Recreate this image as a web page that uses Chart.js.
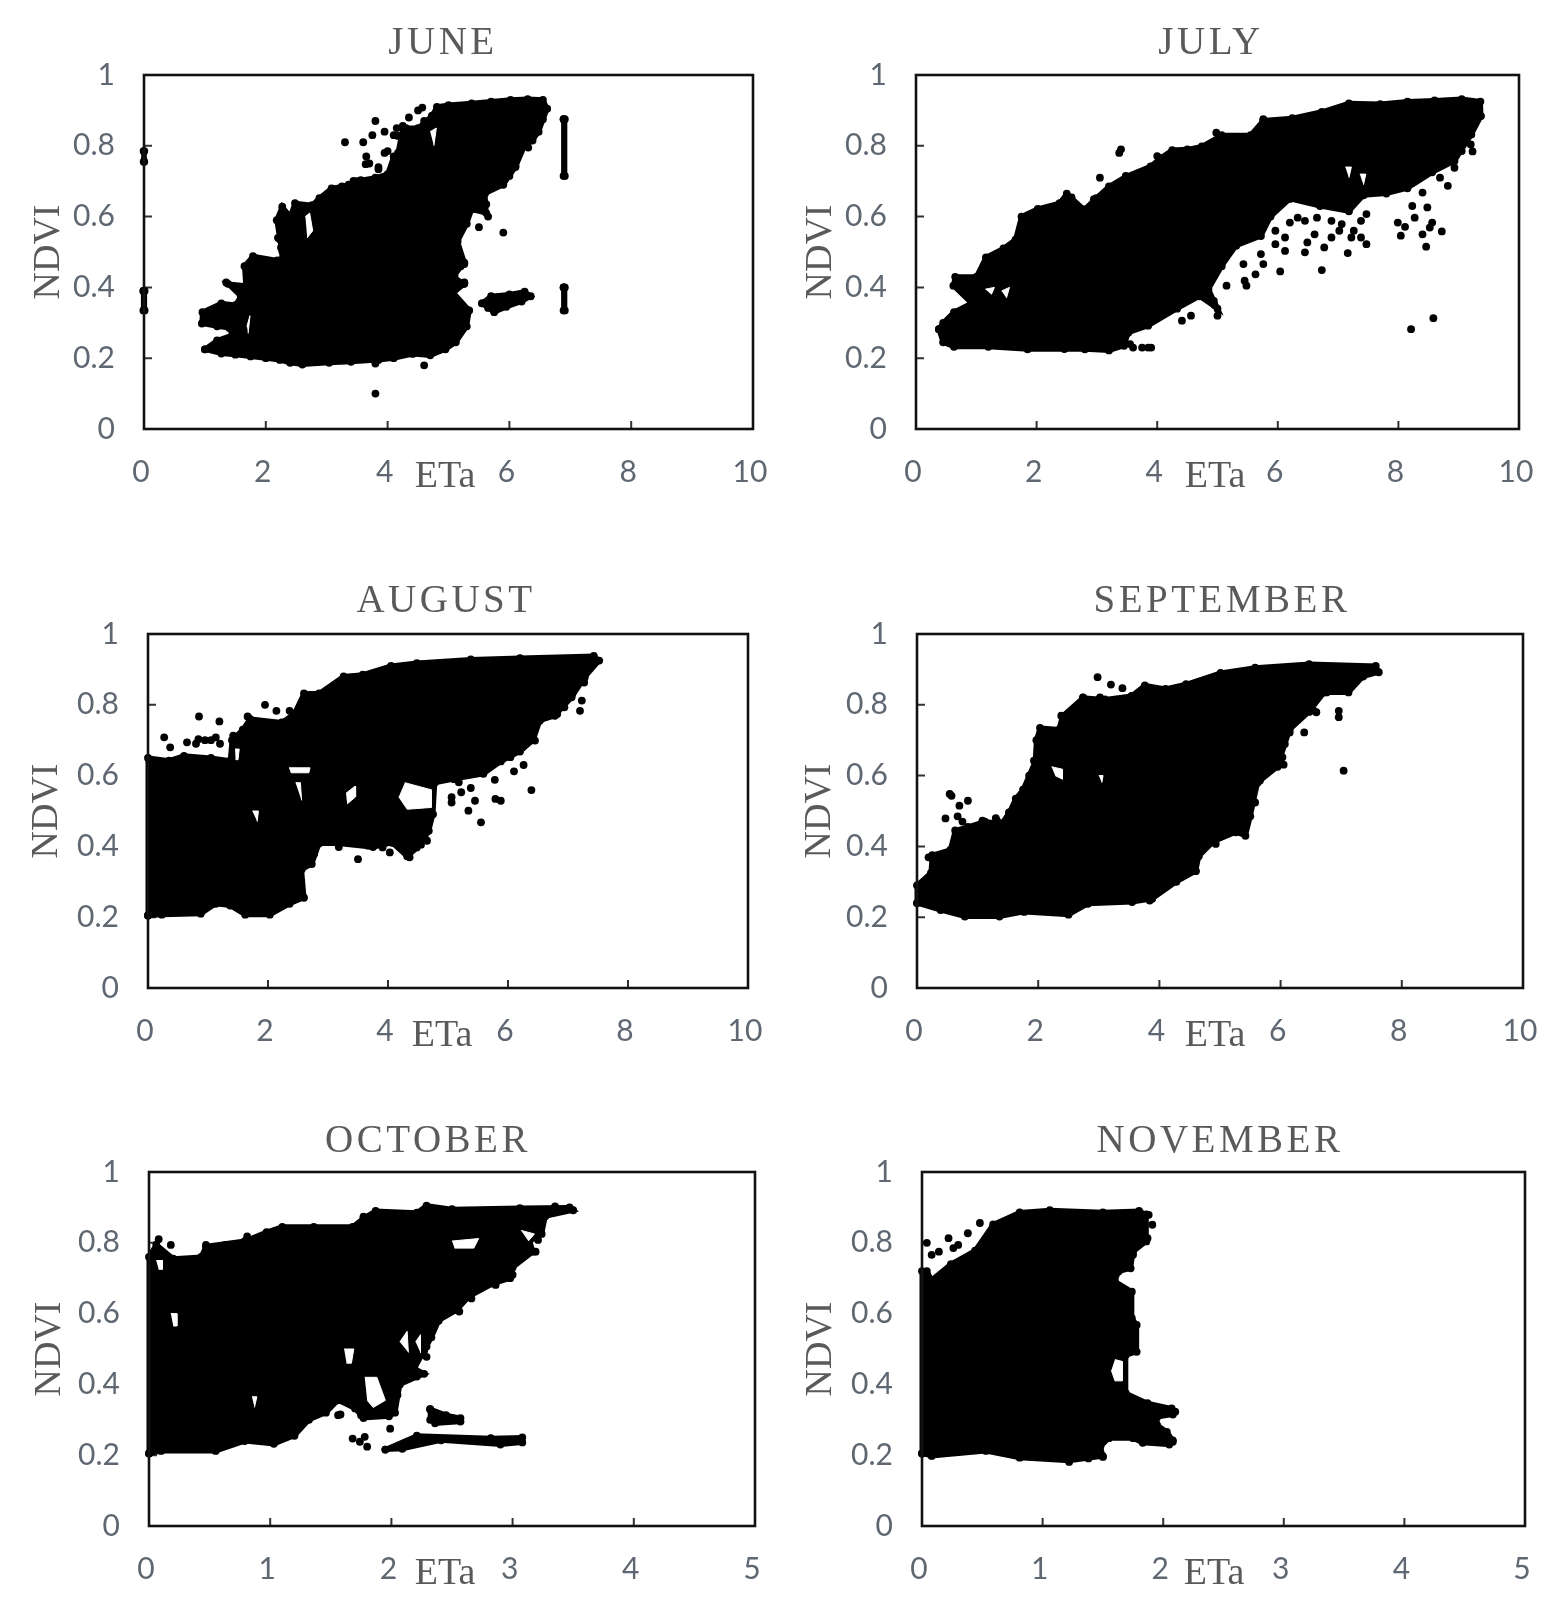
<!DOCTYPE html>
<html>
<head>
<meta charset="utf-8">
<title>NDVI vs ETa</title>
<script src="https://cdn.jsdelivr.net/npm/chart.js@4"></script>
<style>
html, body { margin: 0; padding: 0; background: #fff; }
body { position: relative; width: 1558px; height: 1600px; overflow: hidden; }
canvas { position: absolute; }
</style>
</head>
<body>
<script>
// values as [ETa, NDVI]. the dense clouds are kept as their outline
const juneOutline = [[1,.225],[1.2,.25],[1.45,.265],[1.4,.285],[1.2,.29],[.95,.298],[.96,.33],[1.27,.355],[1.5,.35],[1.59,.375],[1.38,.41],[1.67,.405],[1.65,.46],[1.79,.488],[2.19,.476],[2.27,.48],[2.25,.513],[2.18,.59],[2.27,.628],[2.4,.6],[2.48,.638],[2.76,.632],[2.88,.652],[3.08,.68],[3.25,.685],[3.36,.69],[3.56,.703],[3.8,.71],[4,.72],[4.1,.77],[4.17,.78],[4.25,.85],[4.5,.85],[4.73,.885],[4.81,.91],[5,.915],[5.38,.92],[5.7,.925],[6.02,.93],[6.3,.932],[6.55,.93],[6.62,.905],[6.48,.84],[6.38,.815],[6.25,.8],[6.1,.74],[6,.715],[5.9,.69],[5.6,.665],[5.62,.61],[5.38,.62],[5.3,.58],[5.15,.53],[5.26,.47],[5.08,.43],[5.26,.41],[5.08,.385],[5.34,.335],[5.3,.29],[5.12,.245],[4.95,.225],[4.7,.208],[4.41,.212],[4.1,.2],[3.85,.195],[3.4,.19],[3.04,.187],[2.6,.182],[2.4,.187],[2.23,.195],[2,.2],[1.75,.205],[1.5,.21],[1.27,.213]];
const juneIslands = [
  [[5.55,.355],[5.7,.375],[6.0,.38],[6.25,.388],[6.35,.375],[6.2,.36],[5.95,.345],[5.75,.33],[5.65,.342]],
  [[6.89,.875],[6.91,.875],[6.91,.715],[6.89,.715]],
  [[6.89,.4],[6.91,.4],[6.91,.335],[6.89,.335]],
  [[-.01,.39],[.01,.39],[.01,.335],[-.01,.335]],
  [[-.005,.785],[.005,.785],[.005,.755],[-.005,.755]]
];
const junePoints = [[3.3,.81],[3.6,.81],[3.8,.87],[3.95,.84],[3.75,.83],[3.65,.77],[4.1,.83],[3.8,.1],[4.6,.18],[3.8,.185],[5.9,.555],[5.5,.57],[5.65,.6],[3.7,.75],[3.95,.78],[2.2,.54],[4.5,.9],[4.6,.87],[4.3,.85],[3.5,.7],[4.35,.88],[4.15,.85],[3.85,.74],[5.2,.46],[5.25,.41],[3.85,.734],[3.64,.748],[4,.785],[4.17,.828],[4.25,.856],[4.57,.908],[4.73,.884],[6.55,.875],[6.31,.795],[6.1,.743],[5.86,.696],[5.62,.635],[5.26,.466],[5.26,.414],[5.1,.433],[3.44,.701],[2.48,.531],[2.27,.503],[2.23,.536],[1.35,.414]];
const juneGaps = [[[2.65,.6],[2.72,.61],[2.77,.56],[2.68,.54]],[[1.69,.29],[1.74,.32],[1.71,.27]],[[4.7,.84],[4.8,.85],[4.76,.8]]];

const julyOutline = [[.38,.282],[.45,.3],[.63,.33],[.92,.355],[.62,.405],[.65,.43],[1,.43],[1.16,.485],[1.45,.51],[1.65,.535],[1.75,.6],[2.02,.622],[2.38,.638],[2.5,.665],[2.79,.62],[2.99,.652],[3.2,.685],[3.48,.713],[3.89,.742],[4.05,.765],[4.25,.788],[4.5,.79],[4.74,.798],[5.07,.83],[5.55,.83],[5.76,.872],[6.24,.878],[6.73,.896],[7.18,.92],[7.7,.918],[8.15,.925],[8.6,.928],[9.05,.932],[9.36,.925],[9.37,.884],[9.21,.832],[8.93,.757],[8.56,.725],[8.15,.68],[7.8,.665],[7.42,.66],[7.18,.615],[6.7,.63],[6.2,.65],[5.88,.6],[5.72,.545],[5.31,.518],[5.07,.46],[4.85,.395],[5,.34],[4.7,.375],[4.33,.34],[3.85,.292],[3.52,.272],[3.45,.235],[3.2,.222],[2.8,.225],[2.46,.226],[1.85,.225],[1.2,.232],[.63,.232],[.45,.245]];
const julyIslands = [];
const julyPoints = [[3.6,.23],[3.55,.24],[3.85,.23],[3.9,.23],[3.75,.23],[3.4,.79],[3.37,.78],[3.05,.71],[8.21,.282],[8.58,.313],[4.41,.306],[4.56,.32],[6.73,.449],[6.04,.445],[7.16,.497],[6.45,.499],[8.46,.515],[8.72,.558],[8.82,.687],[9.2,.804],[9.23,.784],[7.99,.583],[8.04,.546],[8.11,.571],[8.4,.55],[8.52,.569],[8.56,.583],[8.27,.597],[8.23,.63],[8.48,.626],[8.4,.668],[8.69,.71],[8.93,.738],[6.2,.583],[6.33,.597],[6.45,.588],[6.65,.597],[6.89,.588],[7.06,.579],[7.26,.56],[7.47,.607],[7.38,.588],[7.22,.541],[7.38,.541],[7.47,.522],[6.89,.541],[6.77,.513],[6.49,.527],[6.61,.55],[7.02,.56],[6.12,.541],[5.96,.56],[6.12,.503],[5.96,.522],[5.76,.466],[5.63,.437],[5.43,.466],[5.45,.419],[5.15,.405],[5.48,.405],[5.72,.494],[4.95,.35],[5,.32],[2.58,.654],[2.95,.649],[3.48,.715],[4,.771],[4.25,.785],[4.98,.837],[5.76,.875],[.63,.325],[4.94,.362],[8.15,.696],[8.85,.757],[9.05,.785]];
const julyGaps = [[[7.12,.74],[7.22,.74],[7.18,.71]],[[7.36,.72],[7.46,.72],[7.42,.69]],[[1.15,.395],[1.3,.4],[1.25,.38]],[[1.42,.39],[1.55,.4],[1.5,.37]]];

const augustOutline = [[0,.205],[0,.65],[.35,.642],[.6,.656],[1.05,.65],[1.37,.642],[1.4,.7],[1.58,.73],[1.7,.76],[2.23,.75],[2.44,.775],[2.6,.832],[2.85,.832],[3.26,.88],[3.58,.885],[4.05,.91],[4.48,.918],[5.38,.928],[6.2,.932],[7.43,.938],[7.52,.925],[7.28,.878],[7.06,.821],[6.78,.769],[6.53,.755],[6.42,.7],[6.2,.668],[5.88,.64],[5.59,.605],[5.1,.59],[4.78,.58],[4.75,.491],[4.68,.444],[4.55,.405],[4.32,.372],[4.07,.41],[3.75,.398],[3.17,.408],[2.85,.408],[2.73,.35],[2.56,.335],[2.6,.255],[2.36,.238],[2.03,.207],[1.62,.207],[1.37,.233],[1.13,.238],[.88,.21],[.23,.207]];
const augustIslands = [];
const augustPoints = [[.85,.767],[1.19,.753],[1.95,.8],[2.14,.783],[1.66,.767],[.27,.708],[.37,.68],[.65,.694],[6.39,.559],[6.26,.63],[6.1,.612],[5.78,.588],[5.79,.534],[5.88,.529],[5.55,.468],[5.34,.501],[5.45,.529],[5.38,.565],[5.22,.553],[5.18,.581],[5.06,.524],[5.06,.539],[7.2,.783],[7.23,.812],[6.78,.774],[3.5,.364],[4.36,.369],[4.03,.383],[.95,.7],[1.05,.7],[.8,.69],[1.2,.69],[4.3,.57],[4.45,.535],[4.6,.55],[3.75,.55],[2.36,.783],[1.42,.713],[.84,.703],[1.13,.708],[6.94,.793],[6.82,.774],[7.06,.826],[7.27,.863],[6.24,.68],[6.45,.699],[5.88,.642],[6.04,.652],[4.65,.416],[4.48,.397],[3.67,.402],[2.77,.379],[3.18,.398],[3.91,.397]];
const augustGaps = [[[4.28,.58],[4.72,.56],[4.72,.51],[4.32,.505],[4.18,.54]],[[1.45,.675],[1.52,.675],[1.5,.645],[1.46,.645]],[[2.35,.622],[2.7,.622],[2.68,.608],[2.38,.608]],[[1.74,.5],[1.84,.5],[1.82,.47]],[[2.46,.58],[2.54,.58],[2.56,.53]],[[3.3,.55],[3.45,.57],[3.46,.54],[3.32,.52]]];

const septemberOutline = [[0,.24],[0,.29],[.23,.325],[.25,.375],[.55,.39],[.63,.445],[.84,.455],[1.12,.47],[1.4,.465],[1.52,.495],[1.63,.535],[1.75,.56],[1.85,.6],[1.95,.64],[1.97,.7],[2.03,.735],[2.34,.73],[2.4,.768],[2.74,.82],[3.1,.815],[3.54,.825],[3.76,.855],[4.1,.845],[4.44,.858],[5.01,.89],[5.58,.905],[6.47,.915],[7.57,.91],[7.62,.892],[7.36,.88],[7.12,.835],[6.72,.835],[6.47,.78],[6.15,.73],[5.95,.625],[5.62,.58],[5.5,.485],[5.42,.43],[5.26,.44],[4.89,.413],[4.65,.372],[4.6,.33],[4.28,.3],[3.88,.252],[3.55,.243],[2.82,.238],[2.5,.207],[1.77,.215],[1.36,.202],[.79,.202],[.39,.22]];
const septemberIslands = [];
const septemberPoints = [[2.98,.878],[3.2,.857],[3.39,.847],[7.04,.614],[6.96,.783],[6.96,.765],[6.05,.631],[.54,.548],[.57,.543],[.84,.529],[.7,.515],[.47,.479],[.67,.485],[6.39,.722],[6.59,.779],[1.93,.642],[5.58,.524],[.75,.47],[1.3,.48],[6.55,.783],[6.15,.722],[6.76,.835],[7.08,.84],[6.07,.689],[6.03,.652],[5.66,.586],[5.38,.482],[4.93,.407],[4.6,.331],[3.84,.247],[2.38,.769],[2.74,.821],[3.02,.821],[1.73,.548],[1.52,.496],[1.32,.473],[1.08,.473],[.79,.444],[.19,.369]];
const septemberGaps = [[[2.22,.625],[2.4,.618],[2.4,.59],[2.28,.6]],[[3,.6],[3.07,.6],[3.05,.58]]];

const octoberOutline = [[0,.205],[0,.76],[.06,.795],[.2,.755],[.43,.76],[.47,.79],[.79,.805],[.97,.83],[1.1,.845],[1.36,.845],[1.68,.845],[1.77,.87],[1.87,.89],[2.21,.885],[2.29,.905],[2.5,.895],[3.06,.898],[3.47,.9],[3.5,.892],[3.27,.875],[3.24,.825],[3.14,.805],[3.17,.775],[3.0,.73],[2.98,.7],[2.84,.685],[2.64,.648],[2.54,.61],[2.39,.58],[2.33,.533],[2.27,.495],[2.19,.445],[2.27,.43],[2.07,.4],[2.03,.32],[1.98,.31],[1.77,.305],[1.7,.332],[1.56,.355],[1.46,.32],[1.32,.3],[1.2,.255],[1.03,.232],[.79,.24],[.55,.212],[.1,.212]];
const octoberIslands = [
  [[2.32,.33],[2.45,.313],[2.57,.305],[2.57,.295],[2.36,.29],[2.32,.3]],
  [[1.95,.216],[2.21,.255],[2.82,.248],[3.08,.25],[3.08,.236],[2.9,.23],[2.41,.242],[2.09,.218]]
];
const octoberPoints = [[1.58,.315],[1.68,.247],[1.78,.252],[1.74,.238],[1.8,.224],[1.99,.275],[2.29,.507],[2.29,.478],[.18,.794],[.08,.81],[3.19,.775],[3,.71],[2.86,.681],[2.66,.643],[2.56,.606],[.97,.827],[.81,.818],[.47,.794],[.63,.794],[1.77,.874],[3.21,.808],[3.35,.903],[3.47,.898],[1.56,.313],[1.75,.313],[1.89,.313],[2.01,.323],[2.05,.37],[1.79,.408],[1.72,.36],[1.89,.389],[1.97,.389],[2.21,.422]];
const octoberGaps = [[[1.78,.42],[1.88,.42],[1.95,.355],[1.85,.335],[1.8,.355]],[[1.61,.5],[1.69,.5],[1.67,.46],[1.63,.46]],[[2.5,.805],[2.72,.812],[2.68,.785],[2.52,.785]],[[3.07,.835],[3.18,.825],[3.13,.805]],[[.18,.6],[.23,.6],[.23,.565],[.2,.565]],[[.06,.75],[.11,.75],[.11,.725],[.08,.725]],[[.85,.365],[.89,.365],[.87,.335]],[[2.07,.52],[2.13,.55],[2.14,.49]],[[2.2,.52],[2.24,.54],[2.24,.49]]];

const novemberOutline = [[0,.205],[0,.72],[.04,.72],[.08,.695],[.24,.74],[.44,.778],[.59,.852],[.81,.886],[1.06,.892],[1.5,.886],[1.8,.89],[1.86,.88],[1.86,.804],[1.75,.775],[1.73,.728],[1.63,.719],[1.6,.691],[1.74,.662],[1.74,.587],[1.78,.568],[1.78,.492],[1.69,.483],[1.69,.375],[1.87,.347],[2.07,.332],[2.08,.315],[1.95,.308],[1.95,.285],[2.03,.266],[2.08,.242],[2.05,.23],[1.83,.235],[1.75,.248],[1.55,.248],[1.48,.225],[1.5,.197],[1.22,.184],[.81,.193],[.53,.212],[.08,.198]];
const novemberIslands = [];
const novemberPoints = [[.22,.813],[.14,.775],[.08,.766],[.3,.794],[.38,.827],[.48,.856],[.04,.8],[.26,.785],[1.88,.879],[1.91,.851],[1.87,.813],[1.75,.766],[2.1,.323],[2.08,.238],[1.38,.191],[1.5,.195],[1.22,.181]];
const novemberGaps = [[[1.6,.47],[1.66,.465],[1.66,.41],[1.6,.41],[1.57,.44]]];

const months = ['JUNE', 'JULY', 'AUGUST', 'SEPTEMBER', 'OCTOBER', 'NOVEMBER'];
const outlines = [juneOutline, julyOutline, augustOutline, septemberOutline, octoberOutline, novemberOutline];
const islands = [juneIslands, julyIslands, augustIslands, septemberIslands, octoberIslands, novemberIslands];
const points = [junePoints, julyPoints, augustPoints, septemberPoints, octoberPoints, novemberPoints];
const gaps = [juneGaps, julyGaps, augustGaps, septemberGaps, octoberGaps, novemberGaps];
const etaMax = [10, 10, 10, 10, 5, 5];
const etaStep = [2, 2, 2, 2, 1, 1];

// page layout of each panel, in px: plot box, month label centre, ETa label centre, NDVI label centre
const boxes = [
  { l: 144, r: 753, t: 75, b: 429, titleX: 443, titleY: 44, etaX: 445, etaY: 477, ndviX: 49 },
  { l: 916, r: 1519, t: 75, b: 429, titleX: 1211, titleY: 44, etaX: 1215, etaY: 477, ndviX: 821 },
  { l: 148, r: 748, t: 634, b: 988, titleX: 446, titleY: 602, etaX: 442, etaY: 1036, ndviX: 47 },
  { l: 917, r: 1523, t: 634, b: 988, titleX: 1222, titleY: 602, etaX: 1215, etaY: 1036, ndviX: 820 },
  { l: 149, r: 755, t: 1172, b: 1526, titleX: 428, titleY: 1142, etaX: 445, etaY: 1574, ndviX: 50 },
  { l: 922, r: 1525, t: 1172, b: 1526, titleX: 1220, titleY: 1142, etaX: 1214, etaY: 1574, ndviX: 821 }
];
const rows = [{ top: 0, h: 540 }, { top: 540, h: 550 }, { top: 1090, h: 510 }];
const textColor = '#5f6872';
const titleColor = '#5a5a5a';

const xy = a => a.map(p => ({ x: p[0], y: p[1] }));

const panelFrame = {
  id: 'panelFrame',
  beforeDatasetsDraw(chart) {
    const c = chart.ctx, a = chart.chartArea, sx = chart.scales.x, sy = chart.scales.y;
    c.save();
    c.strokeStyle = '#333';
    c.lineWidth = 2;
    c.beginPath();
    sx.ticks.forEach(t => {
      const px = sx.getPixelForValue(t.value);
      c.moveTo(px, a.bottom); c.lineTo(px, a.bottom - 8);
    });
    sy.ticks.forEach(t => {
      const py = sy.getPixelForValue(t.value);
      c.moveTo(a.left, py); c.lineTo(a.left + 8, py);
    });
    c.stroke();
    c.restore();
  },
  afterDatasetsDraw(chart, args, opts) {
    const c = chart.ctx, a = chart.chartArea;
    c.save();
    c.strokeStyle = '#111';
    c.lineWidth = 2.6;
    c.strokeRect(a.left, a.top, a.right - a.left, a.bottom - a.top);
    c.fillStyle = titleColor;
    c.textAlign = 'center';
    c.textBaseline = 'middle';
    c.font = '38px "Liberation Serif"';
    c.fillText('ETa', opts.etaX, opts.etaY);
    c.font = '39px "Liberation Serif"';
    c.letterSpacing = '3.5px';
    c.fillText(opts.text, opts.x, opts.y);
    c.restore();
  }
};

function makeDatasets(i) {
  const sets = [];
  gaps[i].forEach(g => sets.push({
    data: xy(g), showLine: true, fill: 'shape', backgroundColor: '#fff',
    borderColor: '#fff', borderWidth: 1, pointRadius: 0, clip: false
  }));
  sets.push({ data: xy(points[i]), pointRadius: 3.9, backgroundColor: '#000', borderWidth: 0, clip: false });
  [outlines[i]].concat(islands[i]).forEach(o => sets.push({
    data: xy(o.concat([o[0]])), showLine: true, fill: 'shape', backgroundColor: '#000',
    borderColor: '#000', borderWidth: 5, pointRadius: 3.9, pointBackgroundColor: '#000',
    pointBorderWidth: 0, tension: 0, clip: false
  }));
  return sets;
}

months.forEach((name, i) => {
  const box = boxes[i];
  const row = rows[Math.floor(i / 2)];
  const left = i % 2 ? 779 : 0;
  const width = 779;
  const el = document.createElement('canvas');
  el.style.left = left + 'px';
  el.style.top = row.top + 'px';
  el.style.width = width + 'px';
  el.style.height = row.h + 'px';
  el.width = width;
  el.height = row.h;
  document.body.appendChild(el);
  new Chart(el, {
    type: 'scatter',
    data: { datasets: makeDatasets(i) },
    plugins: [panelFrame],
    options: {
      responsive: false,
      animation: false,
      devicePixelRatio: 1,
      layout: { padding: { top: box.t - row.top, right: left + width - box.r, bottom: 0, left: 0 } },
      plugins: {
        legend: { display: false },
        tooltip: { enabled: false },
        panelFrame: {
          text: name, x: box.titleX - left, y: box.titleY - row.top,
          etaX: box.etaX - left, etaY: box.etaY - row.top
        }
      },
      scales: {
        x: {
          type: 'linear', min: 0, max: etaMax[i],
          grid: { display: false, drawTicks: false }, border: { display: false },
          ticks: { stepSize: etaStep[i], color: textColor, font: { family: 'Lato', size: 30 }, padding: 25, labelOffset: -3, maxRotation: 0, autoSkip: false },
          afterFit(s) {
            s.height = row.top + row.h - box.b;
            s.paddingLeft = 0; s.paddingRight = 0;
          }
        },
        y: {
          min: 0, max: 1,
          grid: { display: false, drawTicks: false }, border: { display: false },
          ticks: { stepSize: 0.2, color: textColor, font: { family: 'Lato', size: 30 }, padding: 29, callback: v => String(+v.toFixed(1)) },
          title: {
            display: true, text: 'NDVI', color: titleColor,
            font: { family: 'Liberation Serif', size: 38 },
            padding: { top: box.ndviX - left - 22.8, bottom: 0 }
          },
          afterFit(s) {
            s.width = box.l - left;
            s.paddingTop = 0; s.paddingBottom = 0;
          }
        }
      }
    }
  });
});
</script>
</body>
</html>
